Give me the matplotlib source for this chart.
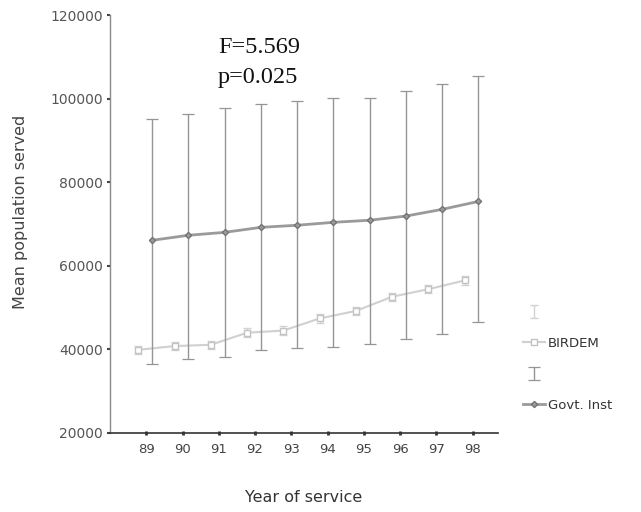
# Import Libraries
import numpy as np
import matplotlib.pyplot as plt
from typing import List, Tuple

# Year of service (two-digit)
years = [89, 90, 91, 92, 93, 94, 95, 96, 97, 98]
year_labels = ['89', '90', '91', '92', '93', '94', '95', '96', '97', '98']

# Govt. Inst: mean population served with error bar limits
govt_mean = [66100, 67300, 68000, 69200, 69700, 70400, 70900, 71900, 73500, 75400]
govt_upper = [95100, 96300, 97700, 98700, 99400, 100100, 100100, 101800, 103500, 105400]
govt_lower = [36600, 37800, 38150, 39760, 40240, 40550, 41200, 42400, 43800, 46500]

# BIRDEM: mean population served with (small) error half-widths
birdem_mean = [39900, 40800, 41100, 44000, 44500, 47400, 49200, 52600, 54400, 56500]
birdem_err = [1000, 1000, 1000, 1000, 1000, 1000, 1000, 1000, 1000, 1000]

y_ticks = [20000, 40000, 60000, 80000, 100000, 120000]
stats_text = 'F=5.569\np=0.025'


def plot_errorbar_trend(
    x: List[int],
    x_labels: List[str],
    x_label: str,
    y_label: str,
    fig_size: Tuple[float, float] = (6.41, 5.12)
) -> None:
    x = np.array(x, dtype = float)
    fig = plt.figure(figsize = fig_size, dpi = 100)
    ax = fig.add_axes([0.1716, 0.1543, 0.6053, 0.8164])

    # BIRDEM series, dodged left
    x_b = x - 0.22
    b_err = ax.errorbar(
        x_b, birdem_mean, yerr = birdem_err, fmt = 'none',
        ecolor = '#d2d2d2', elinewidth = 1.0, capsize = 3, capthick = 1.0
    )
    b_line, = ax.plot(
        x_b, birdem_mean, color = '#d0d0d0', linewidth = 1.5,
        marker = 's', markersize = 4, markerfacecolor = 'white',
        markeredgecolor = '#c2c2c2', markeredgewidth = 1.0
    )

    # Govt. Inst series, dodged right
    x_g = x + 0.16
    g_mean = np.array(govt_mean)
    g_yerr = [g_mean - np.array(govt_lower), np.array(govt_upper) - g_mean]
    g_err = ax.errorbar(
        x_g, g_mean, yerr = g_yerr, fmt = 'none',
        ecolor = '#959595', elinewidth = 1.0, capsize = 4, capthick = 0.9
    )
    g_line, = ax.plot(
        x_g, g_mean, color = '#9a9a9a', linewidth = 2.0,
        marker = 'D', markersize = 3.2, markerfacecolor = '#9a9a9a',
        markeredgecolor = '#707070', markeredgewidth = 0.9
    )

    ax.text(
        0.278, 0.948, stats_text, transform = ax.transAxes,
        family = 'Liberation Serif', fontsize = 17.5, va = 'top', ha = 'left',
        linespacing = 1.55, color = '#111111'
    )

    ax.set_xlim(88, 98.7)
    ax.set_ylim(20000, 120000)
    ax.set_xticks(x)
    ax.set_xticklabels(x_labels)
    ax.set_yticks(y_ticks)
    ax.set_yticklabels([str(t) for t in y_ticks])

    for side in ['top', 'right']:
        ax.spines[side].set_visible(False)
    ax.spines['left'].set_color('#8a8a8a')
    ax.spines['left'].set_linewidth(1.0)
    ax.spines['bottom'].set_color('#333333')
    ax.spines['bottom'].set_linewidth(1.2)

    ax.tick_params(axis = 'y', direction = 'out', length = 2, width = 1.5,
                   color = '#444444', labelsize = 10, labelcolor = '#555555', pad = 3)
    ax.tick_params(axis = 'x', direction = 'inout', length = 3, width = 2,
                   color = '#333333', labelsize = 9.5, labelcolor = '#444444', pad = 6)

    ax.set_xlabel(x_label, fontsize = 11.5, color = '#333333', labelpad = 24)
    ax.set_ylabel(y_label, fontsize = 11.5, color = '#444444')
    ax.yaxis.set_label_coords(-0.212, 0.53)

    fig.legend(
        [b_err, b_line, g_err, g_line],
        ['', 'BIRDEM', '', 'Govt. Inst'],
        loc = 'upper left', bbox_to_anchor = (0.805, 0.415),
        frameon = False, fontsize = 9.5, handlelength = 1.7,
        handletextpad = 0.2, labelspacing = 1.35, borderpad = 0,
        labelcolor = '#333333'
    )

    fig.savefig('out.png', dpi = 100)


plot_errorbar_trend(
    years,
    year_labels,
    x_label = 'Year of service',
    y_label = 'Mean population served'
)
